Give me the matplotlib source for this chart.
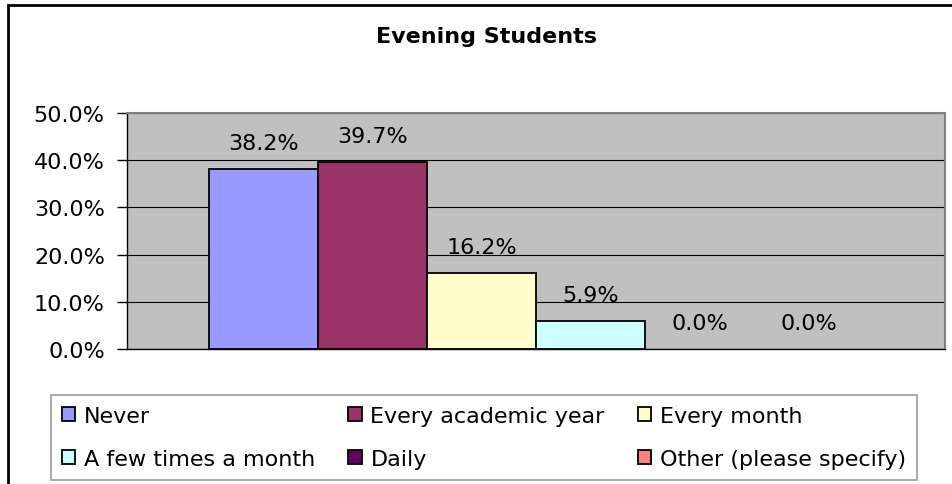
import matplotlib
matplotlib.use("Agg")
import matplotlib.pyplot as plt
from matplotlib.patches import Rectangle, Patch
from matplotlib.ticker import FuncFormatter

title = "Evening Students"
series = ["Never", "Every academic year", "Every month",
          "A few times a month", "Daily", "Other (please specify)"]
values = [38.2, 39.7, 16.2, 5.9, 0.0, 0.0]
colors = ["#9999FF", "#993366", "#FFFFCC", "#CCFFFF", "#660066", "#FF8080"]
yticks = [0, 10, 20, 30, 40, 50]

plt.rcParams['font.family'] = ['DejaVu Sans']
FS = 16

fig = plt.figure(figsize=(9.52, 4.85), dpi=100)
W, H = 952, 485
ax = fig.add_axes([127 / W, 1 - 350 / H, (945 - 127) / W, (350 - 114) / H])
ax.set_facecolor("#C0C0C0")

n = len(series)
w = 1.0 / (n + 1.5)
handles = []
for i, (s, v, c) in enumerate(zip(series, values, colors)):
    x = (i - (n - 1) / 2) * w
    ax.bar(x, v, width=w, color=c, edgecolor="black",
           linewidth=1.3 if v > 0 else 0, label=s, zorder=3)
    handles.append(Patch(facecolor=c, edgecolor="black", linewidth=1.3))
    ax.annotate(f"{v:.1f}%", xy=(x, v), xytext=(0, 14.4), textcoords="offset points",
                ha="center", va="baseline", fontsize=FS, zorder=4)

ax.set_xlim(-0.5, 0.5)
ax.set_ylim(0, 50)
ax.set_yticks(yticks)
ax.yaxis.set_major_formatter(FuncFormatter(lambda v, p: f"{v:.1f}%"))
ax.tick_params(axis="y", labelsize=FS, length=7, width=1, pad=9, color="black")
ax.set_xticks([])
ax.yaxis.grid(True, color="black", linewidth=0.8, zorder=0)
ax.set_axisbelow(True)
for side in ["top", "right"]:
    ax.spines[side].set_color("#808080")
    ax.spines[side].set_linewidth(1.5)
for side in ["left", "bottom"]:
    ax.spines[side].set_color("black")
    ax.spines[side].set_linewidth(1.0)

fig.text(487 / W, 1 - 37 / H, title, ha="center", va="center",
         fontsize=FS, fontweight="bold")

# outer chart border
fig.patches.append(Rectangle((8 / W, -0.1), 1.2, 1 - 6 / H + 0.1,
                             transform=fig.transFigure, fill=False,
                             edgecolor="black", linewidth=2, clip_on=False))

# legend (row-major ordering like reference)
order = [0, 3, 1, 4, 2, 5]
leg = fig.legend([handles[i] for i in order], [series[i] for i in order],
                 ncol=3, loc="lower left",
                 bbox_to_anchor=(51 / W, 4 / H, (917 - 51) / W, (481 - 394) / H),
                 mode="expand", fontsize=FS, frameon=True, fancybox=False,
                 handlelength=0.6, handleheight=0.6, handletextpad=0.4,
                 borderpad=0.5, labelspacing=1.02, borderaxespad=0,
                 columnspacing=1.0)
leg.get_frame().set_edgecolor("#808080")
leg.get_frame().set_linewidth(1.2)

fig.savefig("out.png", dpi=100)
